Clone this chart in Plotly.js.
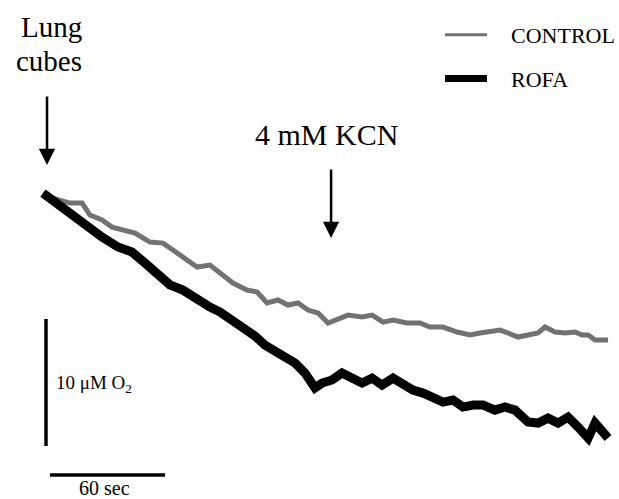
<!DOCTYPE html>
<html>
<head>
<meta charset="utf-8">
<script src="https://cdn.plot.ly/plotly-3.0.1.min.js"></script>
<style>html,body{margin:0;padding:0;background:#fff;}#chart{width:619px;height:499px;}</style>
</head>
<body>
<div id="chart"></div>
<script>
// Time (s) and O2 (µM)
const controlTime = [0, 6.3, 14.1, 20.4, 24.5, 30.8, 36.0, 41.2, 48.0, 55.8, 62.6, 67.8, 73.0, 80.4, 87.1, 92.4, 99.1, 106.4, 111.7, 116.9, 122.6, 127.8, 133.0, 138.3, 143.5, 148.7, 152.4, 159.1, 166.4, 171.7, 177.4, 182.6, 189.9, 196.7, 201.9, 208.7, 216.0, 222.8, 228.0, 233.2, 238.4, 242.6, 247.8, 253.0, 258.3, 261.9, 267.1, 272.4, 277.6, 281.2, 284.4, 288.0, 294.8];
const controlO2 = [199.92, 199.45, 199.13, 199.13, 198.19, 197.80, 197.24, 197.01, 196.77, 196.06, 195.98, 195.43, 194.88, 194.09, 194.25, 193.62, 192.83, 192.28, 192.13, 191.26, 191.50, 191.10, 191.26, 190.71, 190.47, 189.69, 189.92, 190.31, 190.16, 190.31, 189.76, 189.92, 189.69, 189.69, 189.37, 189.37, 188.98, 188.74, 188.90, 188.98, 189.13, 188.90, 188.58, 188.74, 188.90, 189.37, 188.98, 188.90, 188.98, 188.74, 188.74, 188.35, 188.35];
const rofaTime = [0, 6.3, 13.0, 21.9, 30.8, 39.1, 46.4, 53.2, 61.0, 66.3, 73.0, 80.4, 87.1, 92.4, 99.1, 104.4, 110.6, 115.8, 121.0, 126.3, 131.5, 136.7, 141.9, 145.6, 150.8, 156.0, 161.2, 166.4, 171.7, 176.9, 182.6, 187.8, 193.0, 198.3, 203.5, 208.7, 213.9, 219.1, 224.4, 229.6, 235.8, 241.0, 246.3, 253.0, 258.3, 263.5, 268.7, 273.9, 279.1, 284.4, 288.0, 291.7, 294.8];
const rofaO2 = [199.92, 199.21, 198.35, 197.56, 196.46, 195.67, 195.28, 194.41, 193.46, 192.68, 192.28, 191.50, 190.94, 190.55, 189.92, 189.37, 188.66, 187.95, 187.56, 187.01, 186.54, 185.75, 184.57, 184.96, 185.20, 185.75, 185.35, 184.96, 185.35, 184.80, 185.35, 184.80, 184.41, 184.17, 183.86, 183.46, 183.62, 183.07, 183.23, 183.23, 182.83, 183.07, 182.83, 181.89, 181.81, 182.20, 181.81, 182.28, 181.50, 180.63, 181.81, 181.10, 180.63];
const seriesNames = ["CONTROL", "ROFA"];
// Scale bars
const scaleTime = 60;   // sec
const scaleO2 = 10;     // µM O2
const scaleTimeStart = 3.65;
const scaleTimeLevel = 177.72;
const scaleO2Start = 180;
const scaleO2At = 1.57;
// Event markers
const eventNames = ["Lung<br>cubes", "4 mM KCN"];
const eventTimes = [2.1, 150.3];
const eventO2 = [202.13, 196.38];

const serif = "Liberation Serif, Times New Roman, serif";
const grayCol = "#727272";

const traces = [
  {x: controlTime, y: controlO2, name: seriesNames[0], type: "scatter", mode: "lines",
   line: {color: grayCol, width: 5}, showlegend: false},
  {x: rofaTime, y: rofaO2, name: seriesNames[1], type: "scatter", mode: "lines",
   line: {color: "#000", width: 9}, showlegend: false},
  {x: [scaleO2At, scaleO2At], y: [scaleO2Start, scaleO2Start + scaleO2], type: "scatter", mode: "lines",
   line: {color: "#000", width: 3.5}, showlegend: false, hoverinfo: "skip"},
  {x: [scaleTimeStart, scaleTimeStart + scaleTime], y: [scaleTimeLevel, scaleTimeLevel], type: "scatter", mode: "lines",
   line: {color: "#000", width: 3.5}, showlegend: false, hoverinfo: "skip"}
];

function px(x, y) { return {xref: "paper", yref: "paper", x: x / 619, y: 1 - y / 499}; }

const lungLines = eventNames[0].split("<br>");
const annotations = [
  {x: eventTimes[0], y: eventO2[0], xref: "x", yref: "y", text: "", showarrow: true,
   ax: 0, ay: -70, arrowhead: 2, arrowsize: 1.3, arrowwidth: 2.5, arrowcolor: "#000"},
  {x: eventTimes[1], y: eventO2[1], xref: "x", yref: "y", text: "", showarrow: true,
   ax: 0, ay: -70, arrowhead: 2, arrowsize: 1.3, arrowwidth: 2.5, arrowcolor: "#000"},
  Object.assign(px(84, 27), {text: lungLines[0], showarrow: false, xanchor: "right", yanchor: "middle",
   font: {family: serif, size: 29, color: "#000"}}),
  Object.assign(px(84, 61), {text: lungLines[1], showarrow: false, xanchor: "right", yanchor: "middle",
   font: {family: serif, size: 29, color: "#000"}}),
  Object.assign(px(326, 134), {text: eventNames[1], showarrow: false, xanchor: "center", yanchor: "middle",
   font: {family: serif, size: 30, color: "#000"}}),
  Object.assign(px(54, 384), {text: scaleO2 + " μM O<sub>2</sub>", showarrow: false, xanchor: "left", yanchor: "middle",
   font: {family: serif, size: 19, color: "#000"}}),
  Object.assign(px(104, 488), {text: scaleTime + " sec", showarrow: false, xanchor: "center", yanchor: "middle",
   font: {family: serif, size: 20, color: "#000"}}),
  Object.assign(px(509, 36), {text: seriesNames[0], showarrow: false, xanchor: "left", yanchor: "middle",
   font: {family: serif, size: 22, color: "#000"}}),
  Object.assign(px(509, 80), {text: seriesNames[1], showarrow: false, xanchor: "left", yanchor: "middle",
   font: {family: serif, size: 22, color: "#000"}})
];

const shapes = [
  {type: "line", xref: "paper", yref: "paper", x0: 445/619, x1: 487/619, y0: 1 - 34.7/499, y1: 1 - 34.7/499,
   line: {color: grayCol, width: 3}},
  {type: "line", xref: "paper", yref: "paper", x0: 445/619, x1: 487/619, y0: 1 - 78.5/499, y1: 1 - 78.5/499,
   line: {color: "#000", width: 7}}
];

const layout = {
  width: 619, height: 499,
  margin: {l: 0, r: 0, t: 0, b: 0},
  paper_bgcolor: "#fff", plot_bgcolor: "#fff",
  xaxis: {range: [-22.43, 300.5], visible: false, fixedrange: true},
  yaxis: {range: [175.83, 215.12], visible: false, fixedrange: true},
  showlegend: false,
  annotations: annotations,
  shapes: shapes
};

Plotly.newPlot("chart", traces, layout, {displayModeBar: false, staticPlot: true});
</script>
</body>
</html>
